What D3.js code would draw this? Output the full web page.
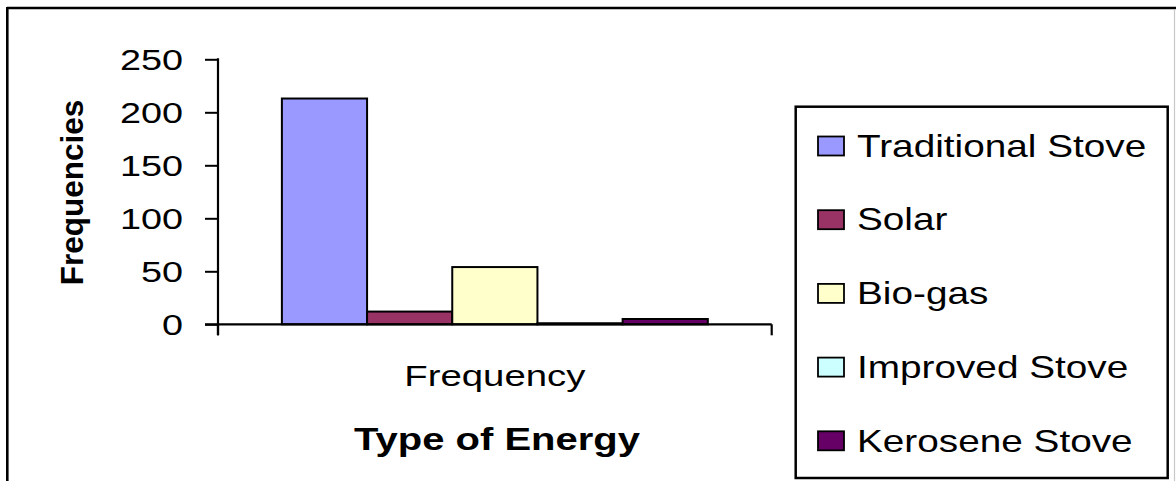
<!DOCTYPE html>
<html>
<head>
<meta charset="utf-8">
<script src="https://cdn.jsdelivr.net/npm/d3@7"></script>
<style>
  html, body { margin: 0; padding: 0; background: #fff; }
  svg { display: block; }
  text { font-family: Arial, "Liberation Sans", sans-serif; fill: #000; }
</style>
</head>
<body>
<script>
// Household energy sources: one category, five series
const categories = ["Frequency"];
const seriesNames = ["Traditional Stove", "Solar", "Bio-gas", "Improved Stove", "Kerosene Stove"];
const seriesValues = [213, 12, 54, 1, 5];
const seriesColors = ["#9999FF", "#993366", "#FFFFCC", "#CCFFFF", "#660066"];
const yTicks = [0, 50, 100, 150, 200, 250];
const yTitle = "Frequencies";
const xTitle = "Type of Energy";

const W = 1176, H = 481;
const plot = { left: 218, right: 771.7, top: 59.3, bottom: 324.3 };

const svg = d3.select("body").append("svg")
  .attr("width", W).attr("height", H);

// Outer chart frame
svg.append("line").attr("x1", 7).attr("x2", W).attr("y1", 8).attr("y2", 8)
  .attr("stroke", "#000").attr("stroke-width", 2.5);
svg.append("line").attr("x1", 7.3).attr("x2", 7.3).attr("y1", 7).attr("y2", H)
  .attr("stroke", "#000").attr("stroke-width", 2.6);
svg.append("line").attr("x1", W - 1.5).attr("x2", W - 1.5).attr("y1", 9).attr("y2", H)
  .attr("stroke", "#c8c8c8").attr("stroke-width", 1.2);

// Scales
const x = d3.scaleBand().domain(categories).range([plot.left, plot.right]);
const xs = d3.scaleBand().domain(seriesNames).range([0, x.bandwidth()])
  .paddingInner(0).paddingOuter(0.75);
const y = d3.scaleLinear().domain([0, 250]).range([plot.bottom, plot.top]);

// Horizontally widened text helper
function label(parent, str, px, py, opts) {
  const g = parent.append("g")
    .attr("transform", `translate(${px},${py}) scale(${opts.sx || 1},1)` + (opts.rotate ? ` rotate(${opts.rotate})` : ""));
  return g.append("text")
    .attr("x", 0).attr("y", 0)
    .attr("text-anchor", opts.anchor || "start")
    .attr("font-size", opts.size)
    .attr("font-weight", opts.bold ? "bold" : "normal")
    .text(str);
}

// Bars
const gBars = svg.append("g");
categories.forEach(cat => {
  gBars.selectAll(null)
    .data(seriesNames.map((s, i) => ({ s, v: seriesValues[i], c: seriesColors[i] })))
    .join("rect")
    .attr("x", d => x(cat) + xs(d.s))
    .attr("y", d => y(d.v))
    .attr("width", xs.bandwidth())
    .attr("height", d => y(0) - y(d.v))
    .attr("fill", d => d.c)
    .attr("stroke", "#000")
    .attr("stroke-width", 2);
});

// Y axis
const yAxis = d3.axisLeft(y).tickValues(yTicks).tickSize(13).tickFormat("");
const gy = svg.append("g").attr("transform", `translate(${plot.left},0)`).call(yAxis);
gy.select(".domain").remove();
gy.selectAll(".tick line").attr("stroke", "#000").attr("stroke-width", 2);
svg.append("line").attr("x1", plot.left).attr("x2", plot.left)
  .attr("y1", plot.top - 1).attr("y2", plot.bottom + 11)
  .attr("stroke", "#000").attr("stroke-width", 2.2);
yTicks.forEach(t => {
  label(svg, String(t), 183, y(t) + 11, { size: 30, sx: 1.26, anchor: "end" });
});

// X axis
svg.append("line").attr("x1", plot.left - 13).attr("x2", plot.right)
  .attr("y1", y(0)).attr("y2", y(0))
  .attr("stroke", "#000").attr("stroke-width", 2.2);
const xEdges = [plot.left, plot.right];
svg.selectAll(null).data(xEdges).join("line")
  .attr("x1", d => d).attr("x2", d => d)
  .attr("y1", y(0)).attr("y2", y(0) + 11)
  .attr("stroke", "#000").attr("stroke-width", 2.2);
categories.forEach(cat => {
  label(svg, cat, x(cat) + x.bandwidth() / 2, 386, { size: 29.5, sx: 1.3, anchor: "middle" });
});

// Axis titles
label(svg, xTitle, 497, 450, { size: 31, sx: 1.29, anchor: "middle", bold: true });
label(svg, yTitle, 83.3, 192.5, { size: 31.5, sx: 1, anchor: "middle", bold: true, rotate: -90 });

// Legend
const leg = { x: 795.7, y: 106.7, w: 372, h: 371.3, rowTop: 146, rowStep: 73.7 };
svg.append("rect").attr("x", leg.x).attr("y", leg.y)
  .attr("width", leg.w).attr("height", leg.h)
  .attr("fill", "#fff").attr("stroke", "#000").attr("stroke-width", 2.5);
seriesNames.forEach((s, i) => {
  const cy = leg.rowTop + i * leg.rowStep;
  svg.append("rect").attr("x", 818).attr("y", cy - 9.5)
    .attr("width", 26).attr("height", 19)
    .attr("fill", seriesColors[i]).attr("stroke", "#000").attr("stroke-width", 1.8);
  label(svg, s, 857, cy + 10.7, { size: 31.5, sx: 1.23 });
});
</script>
</body>
</html>
